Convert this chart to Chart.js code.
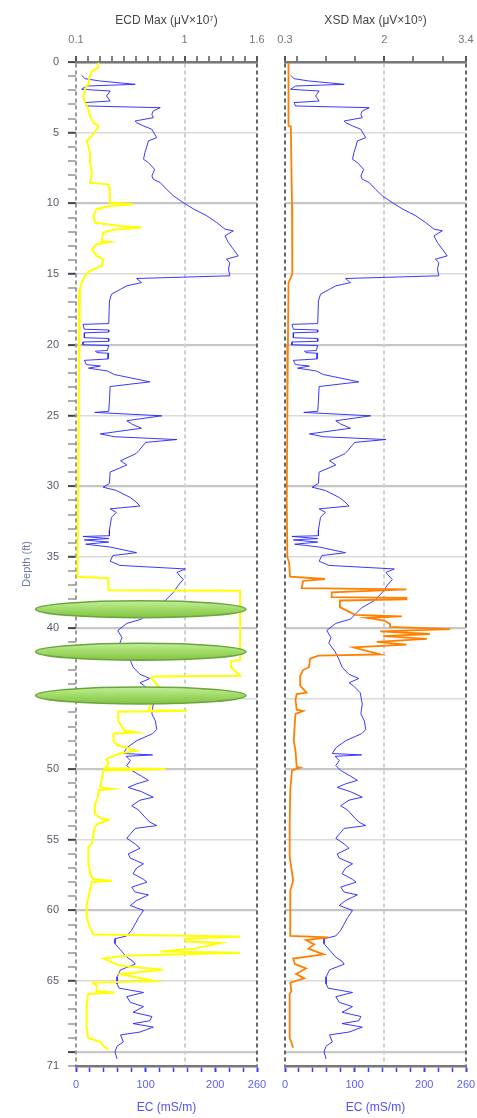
<!DOCTYPE html>
<html><head><meta charset="utf-8">
<script src="https://cdn.jsdelivr.net/npm/chart.js@4/dist/chart.umd.min.js"></script>
<style>
html,body{margin:0;padding:0;background:#fff;width:477px;height:1118px;overflow:hidden;}
canvas{position:absolute;top:0;}
#left{left:0}
#right{left:262px}
</style></head><body>
<canvas id="left" width="272" height="1118"></canvas>
<canvas id="right" width="215" height="1118"></canvas>
<script>
// ---- data (depth in ft) ----
const depthEC = [0.94,1.18,1.34,1.58,1.70,1.93,2.05,2.40,2.76,2.87,3.11,3.23,3.46,3.70,3.94,4.17,4.29,4.52,4.76,5.11,5.35,5.58,5.94,6.41,6.88,7.11,7.59,8.06,8.29,8.53,9.00,9.47,9.94,10.40,10.88,11.35,11.82,11.94,12.30,12.77,13.24,13.71,13.95,14.18,14.65,15.12,15.31,15.60,15.83,16.07,16.42,16.90,18.50,18.55,18.90,18.95,19.10,19.15,19.50,19.55,19.75,19.80,20.00,20.05,20.40,20.45,20.55,20.60,21.00,21.10,21.40,21.50,21.65,21.85,22.10,22.62,22.95,24.00,24.70,24.78,25.02,25.37,25.60,25.90,26.30,26.50,26.70,26.90,27.50,27.70,28.20,28.50,29.00,29.80,30.07,30.30,30.80,31.10,31.40,31.60,31.85,32.20,33.10,33.50,33.55,33.70,33.80,33.95,34.10,34.30,34.70,34.90,35.30,35.60,35.85,36.10,36.60,37.00,37.50,38.10,38.60,39.40,39.70,40.20,40.70,41.10,41.70,42.30,42.80,43.30,43.60,43.90,44.10,44.60,45.40,46.10,46.60,47.20,47.50,48.00,48.50,48.90,49.00,49.10,49.40,49.75,50.10,50.50,50.80,51.05,51.30,51.60,51.99,52.20,52.60,52.90,53.40,53.75,54.00,54.20,54.60,54.90,55.30,55.60,56.00,56.30,56.70,57.00,57.40,57.80,58.00,58.35,58.70,58.90,59.30,59.65,60.00,60.50,60.95,61.40,61.80,62.00,62.35,62.80,63.30,63.60,63.80,64.20,64.70,65.20,65.50,65.80,66.10,66.50,66.80,67.20,67.50,67.80,68.00,68.25,68.60,68.80,69.30,69.60,70.00,70.50];
const ecValues = [8,13,34,85,15,8,49,44,49,13,15,121,111,109,111,85,87,97,109,113,116,104,102,99,97,104,113,109,111,121,130,140,154,169,188,202,214,226,214,219,226,233,216,221,219,221,87,94,73,64,51,48,47,10,12,47,47,12,12,47,47,10,10,47,45,28,30,47,46,12,15,35,18,45,55,106,49,48,47,27,123,73,80,94,35,55,145,100,90,86,64,73,49,48,39,58,78,86,92,49,58,51,48,48,10,47,12,47,14,49,87,53,49,63,157,145,154,147,140,128,110,94,73,60,66,63,72,78,82,92,106,92,98,108,111,109,114,116,110,87,73,68,110,72,78,73,80,94,104,87,75,94,111,92,80,90,99,106,116,85,78,73,85,92,75,78,97,87,82,97,102,80,85,104,87,78,97,90,85,80,73,56,56,64,73,82,85,64,59,59,62,97,73,78,97,82,109,106,82,111,92,64,68,59,56,59];

const depthECD = [0.05,0.40,0.64,0.99,1.40,1.58,1.65,1.93,2.40,2.87,3.35,3.82,4.29,4.52,4.76,5.23,5.58,5.94,6.41,7.11,7.82,8.53,8.65,9.00,9.94,10.06,10.18,10.41,10.88,11.35,11.59,11.71,11.87,12.06,12.65,12.72,12.89,13.24,13.71,13.95,14.42,14.77,15.12,15.60,16.07,22.00,30.00,36.40,36.50,37.35,37.40,42.30,42.35,42.80,43.40,43.45,43.55,44.20,45.40,45.85,45.87,45.95,46.60,47.28,47.40,47.50,48.00,48.30,48.70,48.90,49.30,49.60,49.95,50.00,50.10,50.80,51.30,51.40,51.50,52.00,52.50,53.20,53.50,53.60,53.90,54.30,55.30,55.50,56.50,57.40,57.80,57.90,58.00,58.60,59.60,60.50,61.20,61.70,61.84,62.00,62.20,62.30,62.70,62.90,63.00,63.20,63.40,63.60,63.90,64.20,64.50,65.00,65.10,65.30,65.70,65.80,65.90,66.80,68.30,69.00,69.30,69.60,69.85];
const ecdValues = [0.285,0.285,0.232,0.216,0.205,0.21,0.19,0.175,0.16,0.175,0.202,0.216,0.243,0.285,0.27,0.232,0.188,0.202,0.216,0.216,0.232,0.216,0.368,0.38,0.38,0.575,0.38,0.27,0.243,0.257,0.464,0.644,0.41,0.326,0.312,0.38,0.27,0.232,0.27,0.326,0.312,0.216,0.175,0.147,0.133,0.125,0.118,0.112,0.368,0.368,1.46,1.46,1.385,1.385,1.46,0.74,0.72,0.79,0.72,0.70,1.02,0.45,0.45,0.5,0.6,0.41,0.41,0.44,0.6,0.46,0.35,0.368,0.34,0.84,0.326,0.312,0.30,0.40,0.29,0.28,0.257,0.257,0.312,0.368,0.27,0.25,0.232,0.202,0.202,0.216,0.243,0.40,0.23,0.216,0.188,0.188,0.216,0.243,1.46,1.01,1.01,1.30,1.08,0.80,1.46,0.5,0.33,0.38,0.46,0.82,0.47,0.76,0.243,0.27,0.27,0.42,0.2,0.188,0.188,0.2,0.3,0.33,0.368];

const depthXSD = [0.05,4.50,4.55,10.20,12.00,15.00,15.60,20.00,25.00,31.00,35.00,35.40,36.40,36.56,36.70,37.20,37.30,37.50,37.85,37.90,38.00,38.08,38.55,38.90,39.10,39.20,39.30,39.50,39.75,39.95,40.10,40.27,40.45,40.60,40.80,41.00,41.20,41.40,41.90,41.98,42.20,42.80,43.00,43.40,44.10,44.60,44.70,45.10,45.80,45.90,46.10,47.30,48.00,48.70,49.85,49.90,50.10,51.50,53.90,56.20,57.90,58.60,61.80,61.90,62.10,62.40,62.70,63.10,63.40,63.80,64.10,64.50,64.80,65.10,65.70,65.90,69.00,69.70];
const xsdValues = [0.36,0.36,0.40,0.42,0.43,0.42,0.36,0.35,0.34,0.33,0.34,0.37,0.386,0.985,0.61,0.585,2.38,1.10,1.10,2.38,2.38,1.24,1.24,1.41,1.5,2.3,1.7,2.0,2.1,2.1,3.13,1.93,2.78,1.98,2.73,1.87,2.38,1.47,1.93,0.87,0.73,0.71,0.61,0.56,0.56,0.67,0.50,0.48,0.5,0.61,0.48,0.46,0.45,0.48,0.5,0.56,0.42,0.39,0.38,0.38,0.44,0.39,0.39,1.04,0.66,0.80,0.70,0.96,0.44,0.47,0.66,0.49,0.63,0.39,0.41,0.38,0.38,0.44];

// ---- tick values / labels ----
const depthTickLabels = [0,5,10,15,20,25,30,35,40,45,50,55,60,65,71];
const ecTickValues = [0,20,40,60,80,100,120,140,160,180,200,220,240,260];
const ecTickLabels = [0,100,200,260];
const ecdTickValues = [0.1,0.2,0.3,0.4,0.5,0.6,0.7,0.8,0.9,1.0,1.1,1.2,1.3,1.4,1.5,1.6];
const ecdTickLabels = [0.1,1,1.6];
const xsdTickValues = [0.3,0.5,1,1.5,2,2.5,3,3.4];
const xsdTickLabels = [0.3,2,3.4];

// ---- highlighted zones (green ellipses) ----
const ellipseDepths = [38.7,41.7,44.8];
const ellipseCenterEC = 93;
const ellipseHalfWidthEC = 151;
const ellipseHalfHeightFt = 0.6;

const pair = (ds, vs) => ds.map((d,i)=>({x: vs[i], y: d}));
const near = (arr, v) => arr.find(a => Math.abs(a - v) < 1e-6);

Chart.defaults.font.family = "'Liberation Sans', Arial, sans-serif";
Chart.defaults.font.size = 11;

function yScale(withLabels) {
  return {
    type:'linear', reverse:true, min:0, max:71, position:'left',
    afterBuildTicks: s => { s.ticks = Array.from({length:72},(_,i)=>({value:i})); },
    afterFit: s => { s.width = withLabels ? 76 : 23; s.paddingTop = 0; s.paddingBottom = 0; },
    ticks: { autoSkip:false, padding:9, color:'#555b66',
      callback: v => withLabels && depthTickLabels.includes(v) ? String(v) : '' },
    grid: {
      color: c => c.tick.value % 10 === 0 ? '#c6c6c6' : (c.tick.value % 5 === 0 ? '#dadada' : 'rgba(0,0,0,0)'),
      lineWidth: c => c.tick.value % 10 === 0 ? 2.2 : (c.tick.value % 5 === 0 ? 1.6 : 0),
      drawTicks: withLabels, tickLength: 8,
      tickColor: c => c.tick.value % 5 === 0 ? '#444' : '#777',
      tickWidth: c => c.tick.value % 5 === 0 ? 2 : 1.2
    },
    border: { display:false },
    title: withLabels ? { display:true, text:'Depth (ft)', color:'#6a7ba8', font:{size:11}, padding:{top:20,bottom:0} } : { display:false }
  };
}

function topScale(vals, labels, min, max, title, edgeLeftColor) {
  return {
    type:'linear', position:'top', min:min, max:max,
    afterBuildTicks: s => { s.ticks = vals.map(v=>({value:v})); },
    afterFit: s => { s.height = 62; s.paddingLeft = 0; s.paddingRight = 0; },
    ticks: { autoSkip:false, maxRotation:0, padding:9, color:'#777',
      callback: v => { const l = near(labels, v); return l === undefined ? '' : String(l); } },
    grid: {
      color: c => { const v = c.tick.value;
        if (Math.abs(v - min) < 1e-6) return edgeLeftColor;
        if (Math.abs(v - max) < 1e-6) return '#666';
        return near(labels, v) !== undefined ? '#cfcfcf' : 'rgba(0,0,0,0)'; },
      lineWidth: c => near(labels, c.tick.value) !== undefined ? 2 : 0,
      tickLength: 6, tickColor: '#555', tickWidth: c => near(labels, c.tick.value) !== undefined ? 2 : 1.5
    },
    border: { display:true, color:'#777', width:2.5, dash:[4,3] },
    title: { display:true, text:title, color:'#444', font:{size:12}, padding:{top:13,bottom:0} }
  };
}

function ecScale() {
  return {
    type:'linear', position:'bottom', min:0, max:260,
    afterBuildTicks: s => { s.ticks = ecTickValues.map(v=>({value:v})); },
    afterFit: s => { s.height = 52; s.paddingLeft = 0; s.paddingRight = 0; },
    ticks: { autoSkip:false, maxRotation:0, padding:6, color:'#5c5cff',
      callback: v => ecTickLabels.includes(v) ? String(v) : '' },
    grid: { drawOnChartArea:false, tickLength:6, tickColor:'#3c3cff',
      tickWidth: c => ecTickLabels.includes(c.tick.value) ? 2 : 1.5 },
    border: { display:true, color:'#777', width:2.5 },
    title: { display:true, text:'EC (mS/m)', color:'#5050ff', font:{size:12}, padding:{top:4,bottom:3} }
  };
}

const ellipsePlugin = {
  id:'zones',
  afterDraw(chart) {
    const {ctx} = chart; const y = chart.scales.y; const x = chart.scales.xEC;
    ellipseDepths.forEach(d => {
      const cy = y.getPixelForValue(d);
      const cx = x.getPixelForValue(ellipseCenterEC);
      const rx = x.getPixelForValue(ellipseCenterEC + ellipseHalfWidthEC) - cx;
      const ry = Math.abs(y.getPixelForValue(d + ellipseHalfHeightFt) - cy);
      const g = ctx.createLinearGradient(0, cy - ry, 0, cy + ry);
      g.addColorStop(0, '#c4ee9c'); g.addColorStop(0.45, '#a2dc6a'); g.addColorStop(1, '#84c344');
      ctx.save();
      ctx.beginPath(); ctx.ellipse(cx, cy, rx, ry, 0, 0, Math.PI * 2);
      ctx.fillStyle = g; ctx.fill();
      ctx.lineWidth = 1.6; ctx.strokeStyle = '#6ba53c'; ctx.stroke();
      ctx.restore();
    });
  }
};

const common = { responsive:false, animation:false, events:[],
  plugins:{ legend:{display:false}, tooltip:{enabled:false} } };

new Chart(document.getElementById('left'), {
  type:'scatter',
  data:{ datasets:[
    { label:'ECD Max', data:pair(depthECD, ecdValues), xAxisID:'xECD', yAxisID:'y', showLine:true,
      borderColor:'#ffff00', borderWidth:2, pointRadius:0, tension:0 },
    { label:'EC', data:pair(depthEC, ecValues), xAxisID:'xEC', yAxisID:'y', showLine:true,
      borderColor:'rgba(35,35,255,0.9)', borderWidth:1, pointRadius:0, tension:0 }
  ]},
  options: Object.assign({}, common, {
    layout:{ padding:{left:0, right:15, top:0, bottom:0} },
    scales:{ y:yScale(true), xECD:topScale(ecdTickValues, ecdTickLabels, 0.1, 1.6, 'ECD Max (\u03bcV\u00d710\u2077)', '#9a9a9a'), xEC:ecScale() }
  }),
  plugins:[ellipsePlugin]
});

new Chart(document.getElementById('right'), {
  type:'scatter',
  data:{ datasets:[
    { label:'XSD Max', data:pair(depthXSD, xsdValues), xAxisID:'xXSD', yAxisID:'y', showLine:true,
      borderColor:'#ff8000', borderWidth:1.8, pointRadius:0, tension:0 },
    { label:'EC', data:pair(depthEC, ecValues), xAxisID:'xEC', yAxisID:'y', showLine:true,
      borderColor:'rgba(35,35,255,0.9)', borderWidth:1, pointRadius:0, tension:0 }
  ]},
  options: Object.assign({}, common, {
    layout:{ padding:{left:0, right:11, top:0, bottom:0} },
    scales:{ y:yScale(false), xXSD:topScale(xsdTickValues, xsdTickLabels, 0.3, 3.4, 'XSD Max (\u03bcV\u00d710\u2075)', '#666'), xEC:ecScale() }
  })
});
</script>
</body></html>
